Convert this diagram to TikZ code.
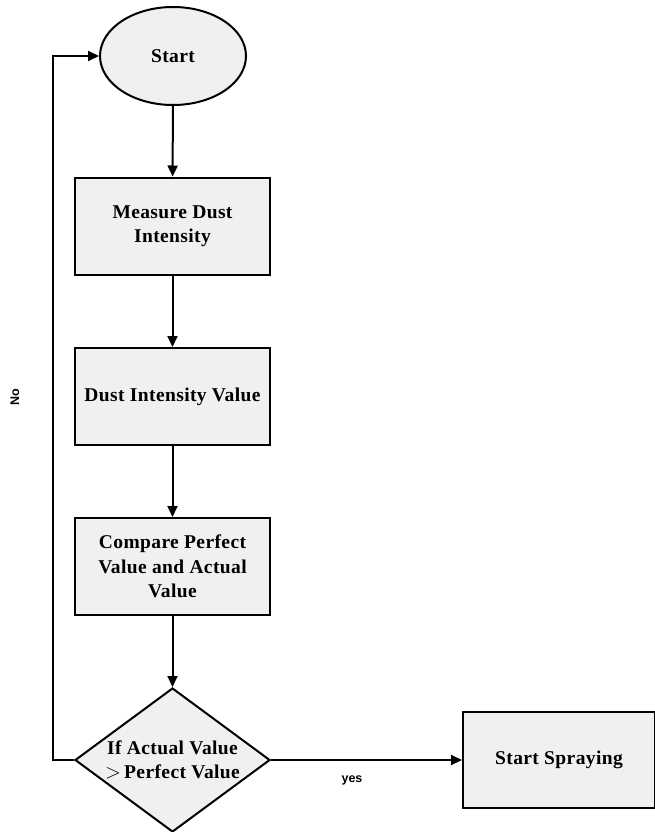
\documentclass[tikz,border=0pt]{standalone}
\usepackage{fontspec}
\setmainfont{Liberation Serif}
\newfontfamily\lblfont{Liberation Sans}
\newfontfamily\boxfont[LetterSpace=2]{Liberation Serif}
\usetikzlibrary{shapes.geometric,arrows.meta}
\definecolor{boxfill}{HTML}{F0F0F0}
\tikzset{
  x=1pt,y=-1pt,
  boxtext/.style={font=\boxfont\fontsize{19.5}{24.5}\selectfont\bfseries,align=center},
  base/.style={draw=black,line width=2pt,fill=boxfill,inner sep=0pt,boxtext},
  procbox/.style={base,rectangle,minimum width=195pt,minimum height=97pt},
  startell/.style={base,ellipse,minimum width=146pt,minimum height=98pt},
  decide/.style={base,diamond,minimum width=195pt,minimum height=144pt},
  conn/.style={line width=2pt,-{Triangle[length=11pt,width=10pt]}},
  lbl/.style={font=\lblfont\bfseries\fontsize{12.5}{14}\selectfont}
}
\begin{document}
\begin{tikzpicture}
\useasboundingbox (0,0) rectangle (654,832);
\node[startell] (start) at (173,56) {Start};
\node[procbox] (measure) at (172.5,226) {Measure Dust\\Intensity};
\node[procbox] (value) at (172.5,396.5) {Dust Intensity Value};
\node[procbox] (compare) at (172.5,566.5) {Compare Perfect\\Value and Actual\\Value};
\node[decide,label={[boxtext,inner sep=0pt]center:If Actual Value\\$>$\,Perfect Value}] (cond) at (172.5,760) {};
\node[procbox,minimum width=192pt,minimum height=96pt] (spray) at (559,760) {Start Spraying};
\coordinate (lb) at (53,760);
\coordinate (lt) at (53,56);
\draw[conn] (start) -- (measure);
\draw[conn] (measure) -- (value);
\draw[conn] (value) -- (compare);
\draw[conn] (compare) -- (cond);
\draw[conn] (cond.east) -- (spray.west);
\draw[conn] (cond.west) -- (lb) -- (lt) -- (start.west);
\node[lbl,rotate=90] (no) at (15,397) {No};
\node[lbl] (yes) at (352,780) {yes};
\end{tikzpicture}
\end{document}
